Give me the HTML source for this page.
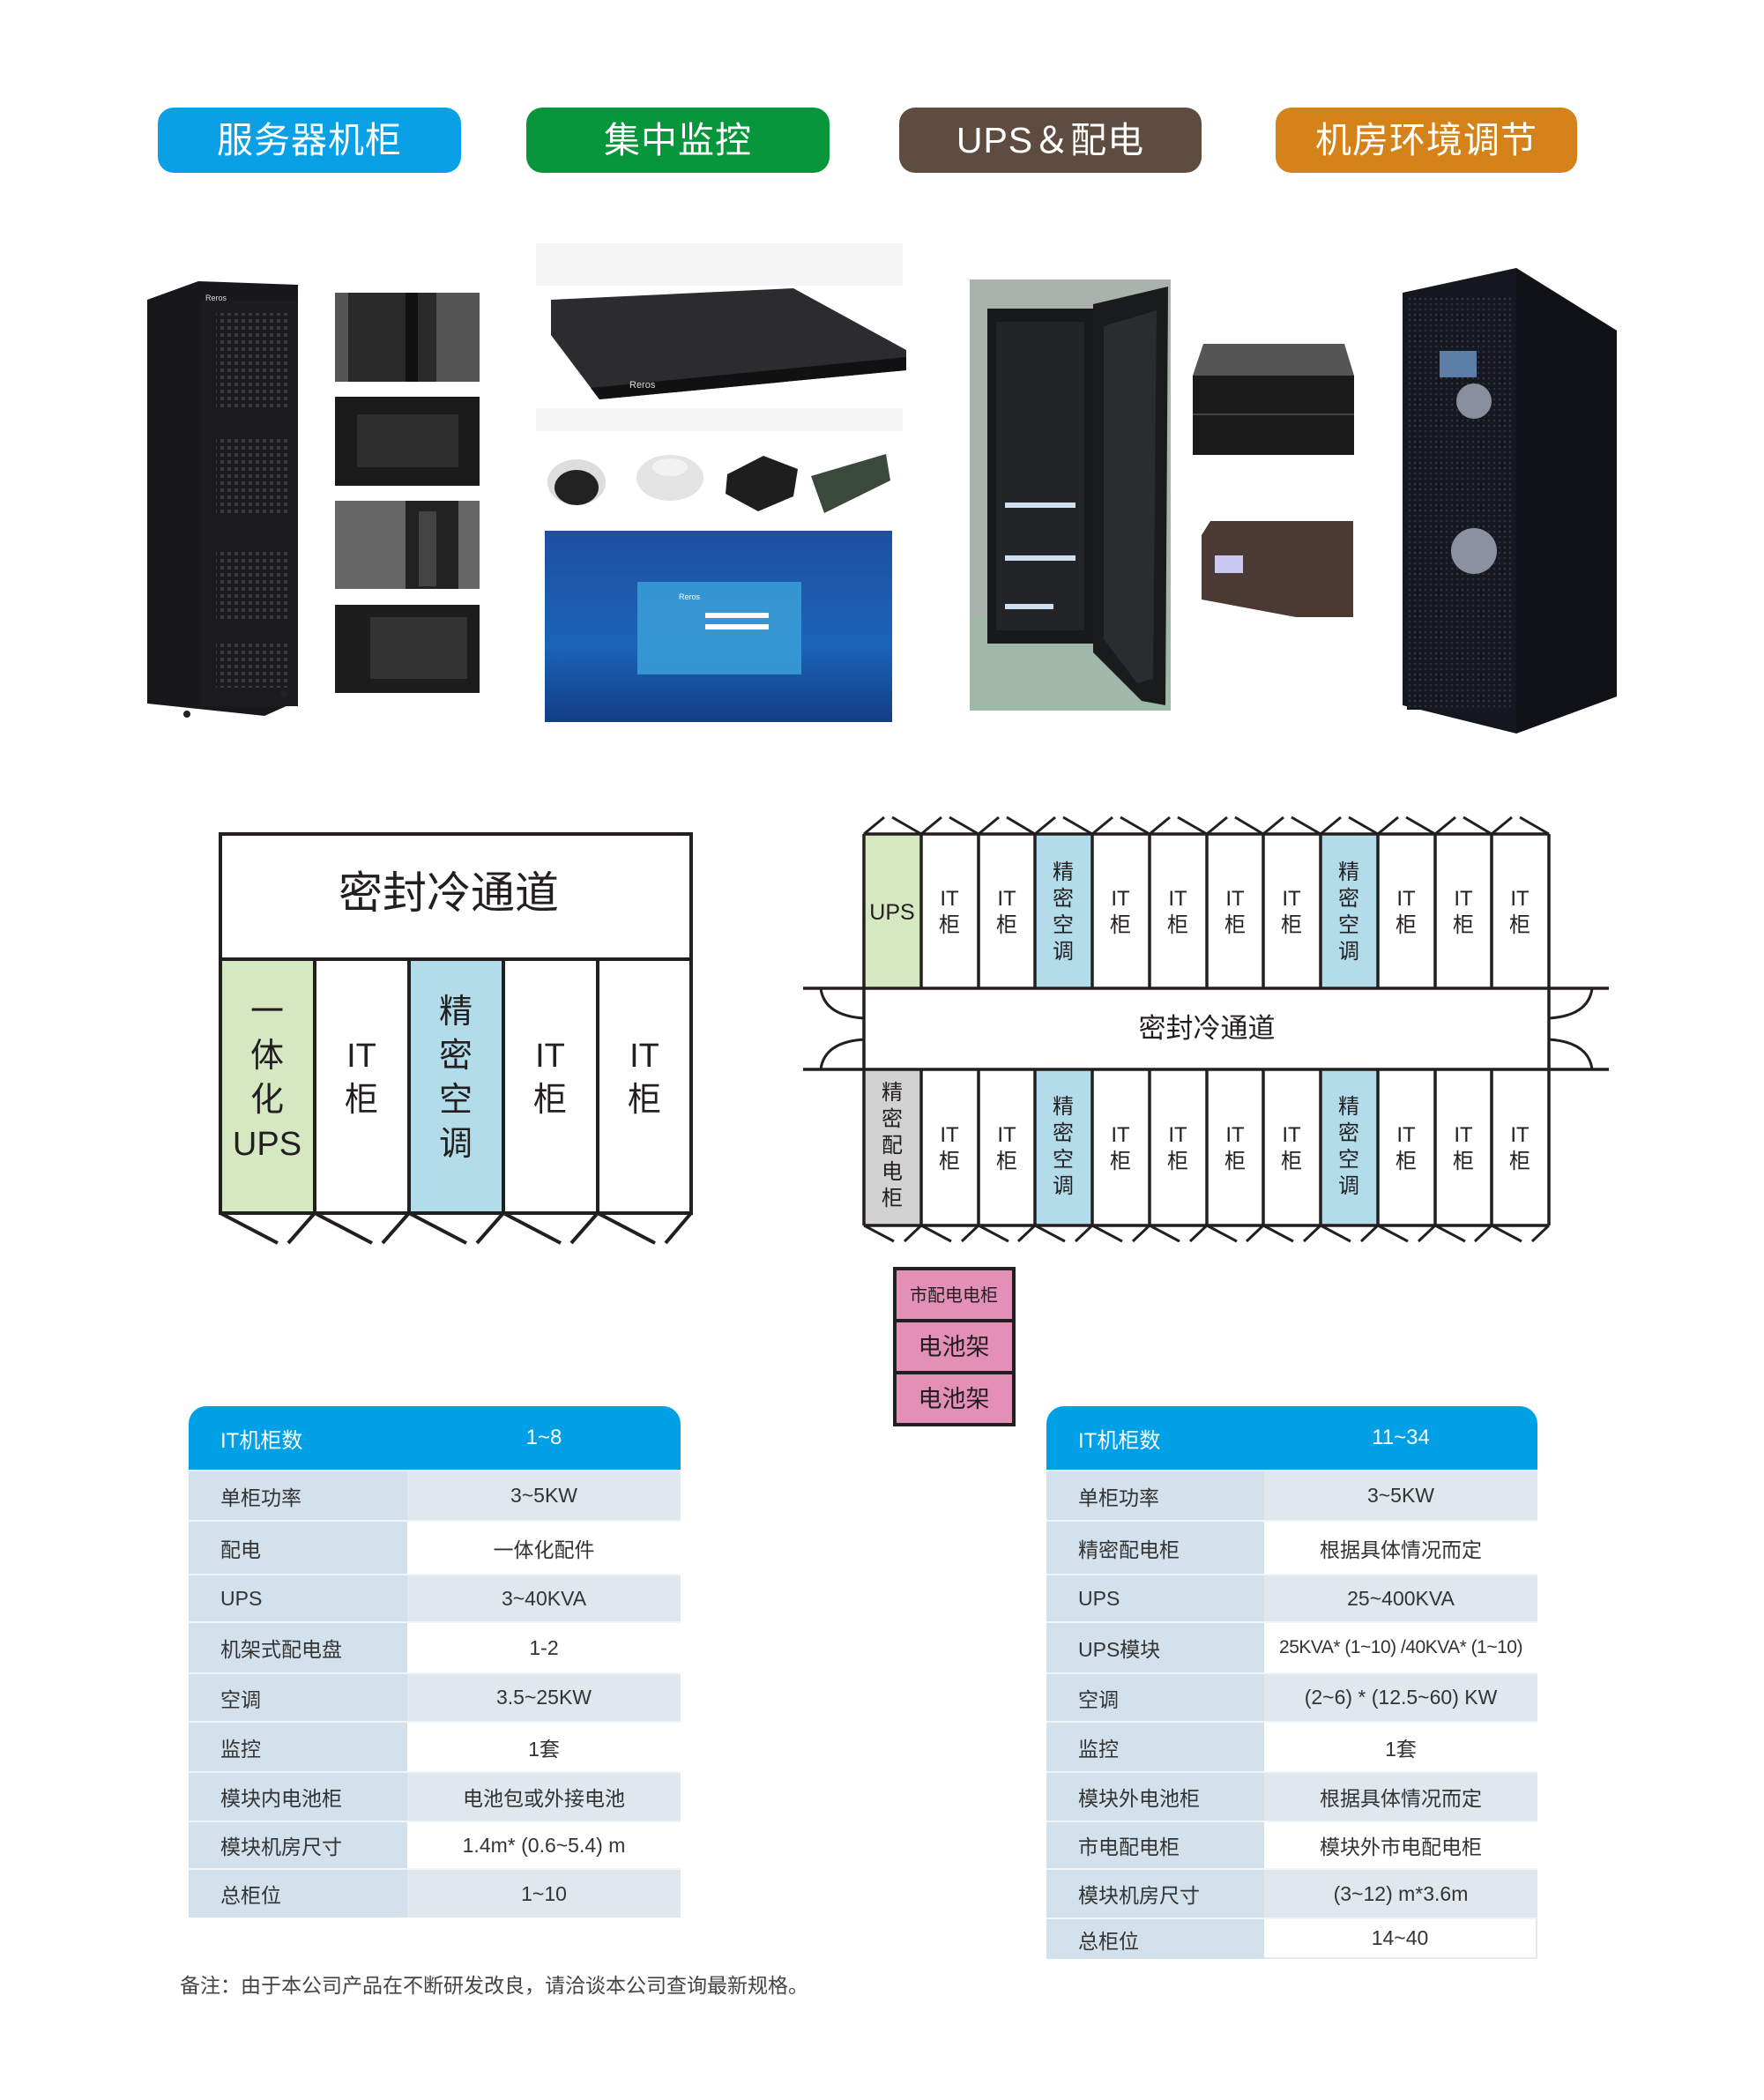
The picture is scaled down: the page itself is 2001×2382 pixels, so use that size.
<!DOCTYPE html>
<html><head><meta charset="utf-8">
<style>
*{margin:0;padding:0;box-sizing:border-box}
body{width:2001px;height:2382px;background:#fff;position:relative;overflow:hidden;font-family:"Liberation Sans","Noto Sans CJK SC",sans-serif}
.btn{position:absolute;top:122px;height:74px;border-radius:18px;color:#fff;font-size:41px;text-align:center;line-height:74px;letter-spacing:1px}
.tbl{position:absolute}
.row{position:absolute;left:0;right:0;display:flex;font-size:23px;color:#333}
.row .l{background:#d2e1eb;padding-left:36px;display:flex;align-items:center;border-top:2px solid #eef4f8}
.row .v{display:flex;align-items:center;justify-content:center;border-top:2px solid #eef4f8}
.g{background:#e0e7ed}.w{background:#fff}
.hd{position:absolute;left:0;right:0;top:0;height:72px;background:#00a0e6;border-radius:20px 20px 0 0;color:#fff;font-size:24px;display:flex;align-items:center}
</style></head><body>

<div class="btn" style="left:179px;width:344px;background:#0aa0e6">服务器机柜</div>
<div class="btn" style="left:597px;width:344px;background:#08963c">集中监控</div>
<div class="btn" style="left:1020px;width:343px;background:#5e4c40">UPS＆配电</div>
<div class="btn" style="left:1447px;width:342px;background:#d4821a">机房环境调节</div>

<svg width="2001" height="2382" style="position:absolute;left:0;top:0" xmlns="http://www.w3.org/2000/svg">
<defs>
<pattern id="dots" width="8" height="8" patternUnits="userSpaceOnUse"><rect width="8" height="8" fill="#1b1b1d"/><rect x="2" y="2" width="4" height="4" fill="#3a3a3e"/></pattern>
<pattern id="mesh" width="6" height="6" patternUnits="userSpaceOnUse"><rect width="6" height="6" fill="#16181f"/><circle cx="3" cy="3" r="1.3" fill="#2c3040"/></pattern>
<linearGradient id="scr" x1="0" y1="0" x2="0" y2="1"><stop offset="0" stop-color="#1f4fa0"/><stop offset="0.6" stop-color="#1a64b8"/><stop offset="1" stop-color="#123e86"/></linearGradient>
</defs>
<!-- server cabinet -->
<polygon points="167,340 225,319 338,323 338,795 300,812 167,798" fill="#18181a"/>
<rect x="228" y="341" width="110" height="460" fill="#1c1c1e"/>
<rect x="245" y="355" width="85" height="110" fill="url(#dots)"/>
<rect x="245" y="495" width="85" height="90" fill="url(#dots)"/>
<rect x="245" y="625" width="85" height="80" fill="url(#dots)"/>
<rect x="245" y="730" width="85" height="50" fill="url(#dots)"/>
<text x="233" y="341" font-size="9" fill="#ddd" font-family="Liberation Sans">Reros</text>
<circle cx="212" cy="810" r="4" fill="#222"/><circle cx="322" cy="787" r="4" fill="#222"/>
<!-- detail photos -->
<rect x="380" y="332" width="164" height="101" fill="#555"/><rect x="395" y="332" width="100" height="101" fill="#2a2a2a"/><rect x="460" y="332" width="14" height="101" fill="#111"/>
<rect x="380" y="450" width="164" height="101" fill="#1a1a1a"/><rect x="405" y="470" width="115" height="60" fill="#2e2e2e"/>
<rect x="380" y="568" width="164" height="100" fill="#666"/><rect x="460" y="568" width="60" height="100" fill="#222"/><rect x="475" y="580" width="20" height="85" fill="#444"/>
<rect x="380" y="686" width="164" height="100" fill="#1c1c1c"/><rect x="420" y="700" width="110" height="70" fill="#333"/>
<!-- monitor unit -->
<rect x="608" y="276" width="416" height="48" fill="#f5f5f5"/>
<rect x="608" y="463" width="416" height="26" fill="#f5f5f5"/>
<polygon points="625,340 900,327 1028,397 1028,420 680,453 625,380" fill="#2c2c2e"/>
<polygon points="670,440 1028,405 1028,420 680,453" fill="#111"/>
<text x="714" y="440" font-size="11" fill="#ddd" font-family="Liberation Sans">Reros</text>
<!-- small devices -->
<ellipse cx="654" cy="547" rx="33" ry="26" fill="#ddd"/><ellipse cx="654" cy="553" rx="25" ry="20" fill="#222"/>
<ellipse cx="760" cy="542" rx="38" ry="26" fill="#e4e4e4"/><ellipse cx="760" cy="530" rx="20" ry="10" fill="#f2f2f2"/>
<polygon points="825,538 866,517 905,532 900,563 860,580 823,560" fill="#1e1e1e"/>
<polygon points="920,540 1005,515 1010,545 935,582" fill="#3a4a3a"/>
<!-- screen -->
<rect x="618" y="602" width="394" height="217" fill="url(#scr)"/>
<rect x="723" y="660" width="186" height="105" fill="#3aa0d8" opacity="0.85"/>
<text x="770" y="680" font-size="9" fill="#fff" font-family="Liberation Sans">Reros</text>
<rect x="800" y="695" width="72" height="6" fill="#fff"/><rect x="800" y="708" width="72" height="6" fill="#fff"/>
<!-- PDU cabinet -->
<rect x="1100" y="317" width="228" height="489" fill="#a9b3ab"/>
<rect x="1100" y="700" width="228" height="106" fill="#9fb8a8"/>
<rect x="1120" y="350" width="120" height="380" fill="#18191b"/>
<rect x="1130" y="365" width="100" height="350" fill="#222427"/>
<rect x="1140" y="570" width="80" height="6" fill="#cfe0f0"/><rect x="1140" y="630" width="80" height="6" fill="#cfe0f0"/><rect x="1140" y="685" width="55" height="6" fill="#cfe0f0"/>
<polygon points="1240,345 1325,325 1322,800 1295,795 1240,740" fill="#1a1b1d"/>
<polygon points="1252,370 1312,352 1308,770 1290,775 1252,725" fill="#2a2d30"/>
<!-- UPS rack -->
<polygon points="1365,390 1525,390 1536,426 1353,426" fill="#555"/>
<rect x="1353" y="426" width="183" height="90" fill="#1a1a1a"/>
<line x1="1353" y1="470" x2="1536" y2="470" stroke="#444" stroke-width="2"/>
<polygon points="1373,591 1535,591 1535,700 1470,700 1363,680 1363,607" fill="#4a3a33"/>
<rect x="1378" y="630" width="32" height="20" fill="#c9c9f0"/>
<!-- AC cabinet -->
<polygon points="1591,332 1720,304 1834,375 1834,790 1720,832 1591,800" fill="#151720"/>
<rect x="1596" y="335" width="122" height="470" fill="url(#mesh)"/>
<polygon points="1720,304 1834,375 1834,790 1720,832" fill="#101218"/>
<rect x="1633" y="398" width="42" height="30" fill="#5b7fa8"/>
<circle cx="1672" cy="455" r="20" fill="#8890a0"/>
<circle cx="1672" cy="625" r="26" fill="#8a92a2"/>

<!-- LEFT DIAGRAM -->
<g stroke="#231f20" stroke-width="4" fill="none">
<rect x="250" y="946" width="534" height="430" fill="#fff"/>
</g>
<rect x="250" y="1088" width="107" height="288" fill="#d5e8c2"/>
<rect x="464" y="1088" width="107" height="288" fill="#b3dcea"/>
<g stroke="#231f20" stroke-width="4" fill="none">
<rect x="250" y="946" width="534" height="430"/>
<line x1="250" y1="1088" x2="784" y2="1088"/>
<line x1="357" y1="1088" x2="357" y2="1376"/><line x1="464" y1="1088" x2="464" y2="1376"/>
<line x1="571" y1="1088" x2="571" y2="1376"/><line x1="678" y1="1088" x2="678" y2="1376"/>
<path d="M250 1376 L315 1410 M357 1376 L327 1410 M357 1376 L422 1410 M464 1376 L434 1410 M464 1376 L529 1410 M571 1376 L541 1410 M571 1376 L636 1410 M678 1376 L648 1410 M678 1376 L743 1410 M784 1376 L755 1410"/>
</g>
<g font-family="Liberation Sans,Noto Sans CJK SC,sans-serif" fill="#231f20" text-anchor="middle">
<text x="509" y="1030" font-size="50">密封冷通道</text>
<g font-size="38">
<text x="303" y="1160">一</text><text x="303" y="1210">体</text><text x="303" y="1260">化</text><text x="303" y="1310">UPS</text>
<text x="410" y="1210">IT</text><text x="410" y="1260">柜</text>
<text x="517" y="1160">精</text><text x="517" y="1210">密</text><text x="517" y="1260">空</text><text x="517" y="1310">调</text>
<text x="624" y="1210">IT</text><text x="624" y="1260">柜</text>
<text x="731" y="1210">IT</text><text x="731" y="1260">柜</text>
</g></g>

<!-- RIGHT DIAGRAM -->
<rect x="980" y="946" width="777" height="444" fill="#fff"/>
<rect x="980" y="946" width="65" height="175" fill="#d5e8c2"/>
<rect x="1174" y="946" width="65" height="175" fill="#b3dcea"/>
<rect x="1498" y="946" width="65" height="175" fill="#b3dcea"/>
<rect x="980" y="1213" width="65" height="177" fill="#d2d2d2"/>
<rect x="1174" y="1213" width="65" height="177" fill="#b3dcea"/>
<rect x="1498" y="1213" width="65" height="177" fill="#b3dcea"/>
<g stroke="#231f20" stroke-width="3.5" fill="none">
<line x1="980" y1="946" x2="1757" y2="946"/>
<line x1="980" y1="1390" x2="1757" y2="1390"/>
<line x1="911" y1="1121" x2="1825" y2="1121"/>
<line x1="911" y1="1213" x2="1825" y2="1213"/>
<path d="M980 946V1390 M1045 946V1121 M1110 946V1121 M1174 946V1121 M1239 946V1121 M1304 946V1121 M1369 946V1121 M1433 946V1121 M1498 946V1121 M1563 946V1121 M1628 946V1121 M1692 946V1121 M1757 946V1390
M1045 1213V1390 M1110 1213V1390 M1174 1213V1390 M1239 1213V1390 M1304 1213V1390 M1369 1213V1390 M1433 1213V1390 M1498 1213V1390 M1563 1213V1390 M1628 1213V1390 M1692 1213V1390"/>
<path stroke-width="3" d="M931 1121 Q935 1152 980 1155 M980 1179 Q935 1182 931 1213 M1806 1121 Q1802 1152 1757 1155 M1757 1179 Q1802 1182 1806 1213"/>
<path stroke-width="3" d="M980 946L1003 927M1012 927L1045 946 M1045 946L1068 927M1077 927L1110 946 M1110 946L1133 927M1142 927L1174 946 M1174 946L1197 927M1206 927L1239 946 M1239 946L1262 927M1271 927L1304 946 M1304 946L1327 927M1336 927L1369 946 M1369 946L1392 927M1401 927L1433 946 M1433 946L1456 927M1465 927L1498 946 M1498 946L1521 927M1530 927L1563 946 M1563 946L1586 927M1595 927L1628 946 M1628 946L1651 927M1660 927L1692 946 M1692 946L1715 927M1724 927L1757 946"/>
<path stroke-width="3" d="M980 1390L1014 1408M1045 1390L1026 1408 M1045 1390L1079 1408M1110 1390L1091 1408 M1110 1390L1144 1408M1174 1390L1155 1408 M1174 1390L1208 1408M1239 1390L1220 1408 M1239 1390L1273 1408M1304 1390L1285 1408 M1304 1390L1338 1408M1369 1390L1350 1408 M1369 1390L1403 1408M1433 1390L1414 1408 M1433 1390L1467 1408M1498 1390L1479 1408 M1498 1390L1532 1408M1563 1390L1544 1408 M1563 1390L1597 1408M1628 1390L1609 1408 M1628 1390L1662 1408M1692 1390L1673 1408 M1692 1390L1726 1408M1757 1390L1738 1408"/>
</g>
<g font-family="Liberation Sans,Noto Sans CJK SC,sans-serif" fill="#231f20" text-anchor="middle" font-size="24">
<text x="1369" y="1177" font-size="31">密封冷通道</text>
<text x="1012" y="1043" font-size="25">UPS</text>
<g id="itt">
<text x="1077" y="1027">IT</text><text x="1077" y="1057">柜</text>
<text x="1142" y="1027">IT</text><text x="1142" y="1057">柜</text>
<text x="1271" y="1027">IT</text><text x="1271" y="1057">柜</text>
<text x="1336" y="1027">IT</text><text x="1336" y="1057">柜</text>
<text x="1401" y="1027">IT</text><text x="1401" y="1057">柜</text>
<text x="1465" y="1027">IT</text><text x="1465" y="1057">柜</text>
<text x="1595" y="1027">IT</text><text x="1595" y="1057">柜</text>
<text x="1660" y="1027">IT</text><text x="1660" y="1057">柜</text>
<text x="1724" y="1027">IT</text><text x="1724" y="1057">柜</text>
</g>
<text x="1206" y="997">精</text><text x="1206" y="1027">密</text><text x="1206" y="1057">空</text><text x="1206" y="1087">调</text>
<text x="1530" y="997">精</text><text x="1530" y="1027">密</text><text x="1530" y="1057">空</text><text x="1530" y="1087">调</text>
<g transform="translate(0,268)">
<text x="1077" y="1027">IT</text><text x="1077" y="1057">柜</text>
<text x="1142" y="1027">IT</text><text x="1142" y="1057">柜</text>
<text x="1271" y="1027">IT</text><text x="1271" y="1057">柜</text>
<text x="1336" y="1027">IT</text><text x="1336" y="1057">柜</text>
<text x="1401" y="1027">IT</text><text x="1401" y="1057">柜</text>
<text x="1465" y="1027">IT</text><text x="1465" y="1057">柜</text>
<text x="1595" y="1027">IT</text><text x="1595" y="1057">柜</text>
<text x="1660" y="1027">IT</text><text x="1660" y="1057">柜</text>
<text x="1724" y="1027">IT</text><text x="1724" y="1057">柜</text>
</g>
<text x="1206" y="1263">精</text><text x="1206" y="1293">密</text><text x="1206" y="1323">空</text><text x="1206" y="1353">调</text>
<text x="1530" y="1263">精</text><text x="1530" y="1293">密</text><text x="1530" y="1323">空</text><text x="1530" y="1353">调</text>
<text x="1012" y="1247">精</text><text x="1012" y="1277">密</text><text x="1012" y="1307">配</text><text x="1012" y="1337">电</text><text x="1012" y="1367">柜</text>
</g>
<!-- pink boxes -->
<g stroke="#231f20" stroke-width="4" fill="#e38fb6">
<rect x="1015" y="1439" width="135" height="59"/>
<rect x="1015" y="1498" width="135" height="59"/>
<rect x="1015" y="1557" width="135" height="59"/>
</g>
<g font-family="Liberation Sans,Noto Sans CJK SC,sans-serif" fill="#231f20" text-anchor="middle">
<text x="1082" y="1476" font-size="20">市配电电柜</text>
<text x="1082" y="1537" font-size="27">电池架</text>
<text x="1082" y="1596" font-size="27">电池架</text>
</g>
</svg>

<!-- LEFT TABLE -->
<div class="tbl" style="left:214px;top:1595px;width:558px;height:580px">
<div class="hd"><span style="width:248px;padding-left:36px">IT机柜数</span><span style="width:310px;text-align:center">1~8</span></div>
<div class="row" style="top:72px;height:57px"><div class="l" style="width:248px">单柜功率</div><div class="v g" style="width:310px">3~5KW</div></div>
<div class="row" style="top:129px;height:61px"><div class="l" style="width:248px">配电</div><div class="v w" style="width:310px">一体化配件</div></div>
<div class="row" style="top:190px;height:54px"><div class="l" style="width:248px">UPS</div><div class="v g" style="width:310px">3~40KVA</div></div>
<div class="row" style="top:244px;height:58px"><div class="l" style="width:248px">机架式配电盘</div><div class="v w" style="width:310px">1-2</div></div>
<div class="row" style="top:302px;height:55px"><div class="l" style="width:248px">空调</div><div class="v g" style="width:310px">3.5~25KW</div></div>
<div class="row" style="top:357px;height:57px"><div class="l" style="width:248px">监控</div><div class="v w" style="width:310px">1套</div></div>
<div class="row" style="top:414px;height:56px"><div class="l" style="width:248px">模块内电池柜</div><div class="v g" style="width:310px">电池包或外接电池</div></div>
<div class="row" style="top:470px;height:54px"><div class="l" style="width:248px">模块机房尺寸</div><div class="v w" style="width:310px">1.4m* (0.6~5.4) m</div></div>
<div class="row" style="top:524px;height:56px"><div class="l" style="width:248px">总柜位</div><div class="v g" style="width:310px">1~10</div></div>
</div>

<!-- RIGHT TABLE -->
<div class="tbl" style="left:1187px;top:1595px;width:557px;height:627px">
<div class="hd"><span style="width:247px;padding-left:36px">IT机柜数</span><span style="width:310px;text-align:center">11~34</span></div>
<div class="row" style="top:72px;height:57px"><div class="l" style="width:247px">单柜功率</div><div class="v g" style="width:310px">3~5KW</div></div>
<div class="row" style="top:129px;height:61px"><div class="l" style="width:247px">精密配电柜</div><div class="v w" style="width:310px">根据具体情况而定</div></div>
<div class="row" style="top:190px;height:54px"><div class="l" style="width:247px">UPS</div><div class="v g" style="width:310px">25~400KVA</div></div>
<div class="row" style="top:244px;height:58px"><div class="l" style="width:247px">UPS模块</div><div class="v w" style="width:310px;font-size:21px;letter-spacing:-0.5px">25KVA* (1~10) /40KVA* (1~10)</div></div>
<div class="row" style="top:302px;height:55px"><div class="l" style="width:247px">空调</div><div class="v g" style="width:310px">(2~6) * (12.5~60) KW</div></div>
<div class="row" style="top:357px;height:57px"><div class="l" style="width:247px">监控</div><div class="v w" style="width:310px">1套</div></div>
<div class="row" style="top:414px;height:56px"><div class="l" style="width:247px">模块外电池柜</div><div class="v g" style="width:310px">根据具体情况而定</div></div>
<div class="row" style="top:470px;height:54px"><div class="l" style="width:247px">市电配电柜</div><div class="v w" style="width:310px">模块外市电配电柜</div></div>
<div class="row" style="top:524px;height:56px"><div class="l" style="width:247px">模块机房尺寸</div><div class="v g" style="width:310px">(3~12) m*3.6m</div></div>
<div class="row" style="top:580px;height:47px"><div class="l" style="width:247px">总柜位</div><div class="v w" style="width:310px;border-bottom:2px solid #e4e8ec;border-right:2px solid #e4e8ec">14~40</div></div>
</div>

<div style="position:absolute;left:204px;top:2233px;font-size:23px;color:#444;white-space:nowrap">备注：由于本公司产品在不断研发改良，请洽谈本公司查询最新规格。</div>
</body></html>
